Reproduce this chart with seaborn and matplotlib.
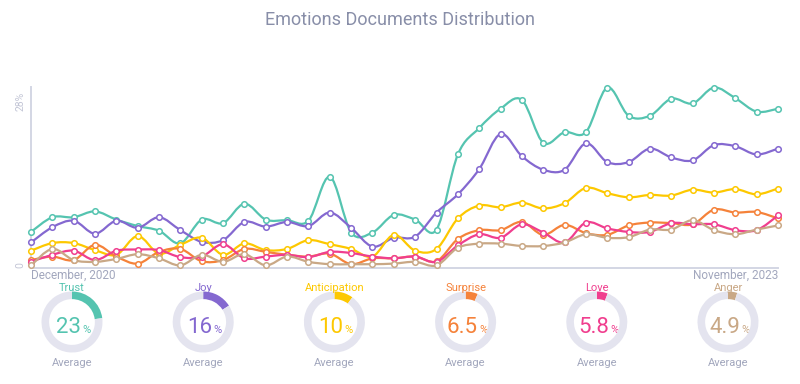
import numpy as np
import pandas as pd
import matplotlib
matplotlib.use("Agg")
import matplotlib.pyplot as plt
from matplotlib.path import Path
from matplotlib.patches import PathPatch
import seaborn as sns

# monthly share of documents per emotion (%), Dec 2020 .. Nov 2023
months = pd.date_range("2020-12-01", "2023-11-01", freq="MS")

trust = [5.7, 8.2, 8.2, 9.2, 7.8, 6.7, 5.9, 3.75, 7.8, 7.2, 10.5, 7.8,
         7.7, 7.6, 15.1, 5.6, 5.6, 8.6, 7.8, 6.1, 18.9, 23.4, 26.7, 28.2,
         20.9, 22.7, 22.7, 30.3, 25.5, 25.5, 28.4, 27.6, 30.3, 28.5, 26.2, 26.7]
joy = [3.9, 6.5, 7.6, 5.4, 7.6, 6.4, 8.2, 6.0, 4.0, 4.3, 7.4, 6.6,
       7.4, 6.7, 9.0, 6.4, 3.2, 4.7, 4.9, 9.0, 12.1, 16.4, 22.4, 18.6,
       16.3, 16.3, 20.8, 17.6, 17.6, 19.9, 18.4, 17.9, 20.5, 20.3, 18.9, 19.9]
anticipation = [2.5, 3.8, 3.8, 2.6, 1.8, 5.0, 2.0, 3.5, 4.7, 1.8, 3.75, 2.6,
                2.8, 4.3, 3.6, 2.8, 1.5, 5.2, 2.5, 2.8, 8.0, 10.2, 9.9, 10.7,
                9.7, 10.6, 13.2, 12.3, 11.6, 12.0, 11.9, 12.9, 12.4, 13.0, 12.1, 13.1]
surprise = [0.9, 1.5, 0.9, 3.5, 1.5, 0.3, 2.3, 2.8, 0.7, 0.9, 2.8, 2.3,
            1.8, 1.5, 2.0, 0.2, 1.2, 1.2, 1.5, 0.7, 4.5, 6.0, 6.0, 7.4,
            5.2, 6.9, 5.5, 5.2, 6.8, 7.3, 7.2, 7.0, 9.5, 9.0, 9.1, 8.0]
love = [0.6, 1.8, 2.5, 0.9, 2.5, 2.7, 2.6, 1.4, 1.5, 3.6, 1.2, 1.5,
        1.8, 1.4, 2.3, 2.1, 1.5, 1.2, 1.5, 0.6, 3.4, 5.3, 4.7, 7.0,
        5.6, 3.9, 7.3, 6.3, 5.7, 5.7, 7.2, 7.0, 7.0, 6.0, 6.0, 8.5]
anger = [0.0, 2.8, 0.9, 0.6, 1.1, 1.9, 1.2, 0.0, 1.8, 0.6, 1.9, 0.0,
         1.5, 0.6, 0.2, 0.2, 0.2, 0.3, 0.6, 0.0, 3.0, 3.7, 3.7, 3.3,
         3.3, 3.9, 5.3, 4.7, 4.8, 6.1, 6.1, 7.7, 6.0, 5.3, 6.1, 6.8]

emotions = ["Trust", "Joy", "Anticipation", "Surprise", "Love", "Anger"]
averages = [23, 16, 10, 6.5, 5.8, 4.9]
average_labels = ["23", "16", "10", "6.5", "5.8", "4.9"]
colors = ["#55c4b0", "#8468d0", "#fdc800", "#f5823a", "#f03e8e", "#c9a886"]
ring_color = "#e4e4ef"
text_grey = "#a2a7bd"

series = [trust, joy, anticipation, surprise, love, anger]


def smooth_path(x, y):
    # catmull-rom style bezier through the points
    x = np.asarray(x, float)
    y = np.asarray(y, float)
    px = np.r_[x[0], x, x[-1]]
    py = np.r_[y[0], y, y[-1]]
    verts = [(x[0], y[0])]
    codes = [Path.MOVETO]
    for i in range(len(x) - 1):
        c1 = (x[i] + (px[i + 2] - px[i]) / 6, y[i] + (py[i + 2] - py[i]) / 6)
        c2 = (x[i + 1] - (px[i + 3] - px[i + 1]) / 6, y[i + 1] - (py[i + 3] - py[i + 1]) / 6)
        verts += [c1, c2, (x[i + 1], y[i + 1])]
        codes += [Path.CURVE4] * 3
    return Path(verts, codes)


sns.set_theme(style="white")
plt.rcParams['font.family'] = ['Roboto', 'DejaVu Sans']

W, H = 800, 384
fig = plt.figure(figsize=(8, 3.84), dpi=100)

fig.text(0.5, 1 - 20 / H, "Emotions Documents Distribution", ha="center", va="center",
         fontsize=13, color="#888ea8")

ax = fig.add_axes([31 / W, 1 - 268 / H, 747 / W, 181 / H])
xs = np.arange(len(months))
for vals, col, k in zip(series, colors, range(len(series))):
    ax.add_patch(PathPatch(smooth_path(xs, vals), fill=False, edgecolor=col,
                           linewidth=1.6, zorder=3 + 2 * k, clip_on=False))
    sns.scatterplot(x=xs, y=vals, ax=ax, marker="o", s=16, facecolor="white",
                    edgecolor=col, linewidth=1.1, zorder=4 + 2 * k, clip_on=False)

ax.set_xlim(0, len(months) - 1)
ax.set_ylim(-0.45, 30.4)
ax.set_xticks([])
ax.set_yticks([0, 28])
ax.set_yticklabels(["0", "28%"], rotation=90, va="center", color="#c3c6d6", fontsize=7.5)
ax.tick_params(axis="y", length=0, pad=4)
for s in ["top", "right"]:
    ax.spines[s].set_visible(False)
for s in ["left", "bottom"]:
    ax.spines[s].set_color("#d3d6e4")
    ax.spines[s].set_linewidth(1.4)
ax.set_xlabel("")
ax.set_ylabel("")

fig.text(31 / W, 1 - 275 / H, months[0].strftime("%B, %Y"), ha="left", va="center",
         fontsize=8.5, color=text_grey)
fig.text(778 / W, 1 - 275 / H, months[-1].strftime("%B, %Y"), ha="right", va="center",
         fontsize=8.5, color=text_grey)

# average gauges
for i, (name, col, avg, lab) in enumerate(zip(emotions, colors, averages, average_labels)):
    cx = 72 + 131.2 * i
    cy = 322
    gax = fig.add_axes([(cx - 34) / W, (H - cy - 34) / H, 68 / W, 68 / H])
    gax.pie([avg, 100 - avg], colors=[col, ring_color], startangle=90, counterclock=False,
            radius=1, wedgeprops=dict(width=0.25, linewidth=0))
    gax.set_xlim(-34 / 30.5, 34 / 30.5)
    gax.set_ylim(-34 / 30.5, 34 / 30.5)
    gax.axis("off")

    fig.text(cx / W, 1 - 288 / H, name, ha="center", va="center", fontsize=8, color=col)
    fig.text(cx / W, 1 - 363 / H, "Average", ha="center", va="center", fontsize=8, color=text_grey)
    num = fig.text((cx - 3.5) / W, 1 - 333 / H, lab, ha="center", va="baseline",
                   fontsize=16, color=col)
    ax.annotate("%", xy=(1, 1 - 333 / H), xycoords=(num, "figure fraction"),
                xytext=(1, 0), textcoords="offset points", ha="left", va="baseline",
                fontsize=8, color=col, annotation_clip=False)

fig.savefig("out.png", dpi=100)
